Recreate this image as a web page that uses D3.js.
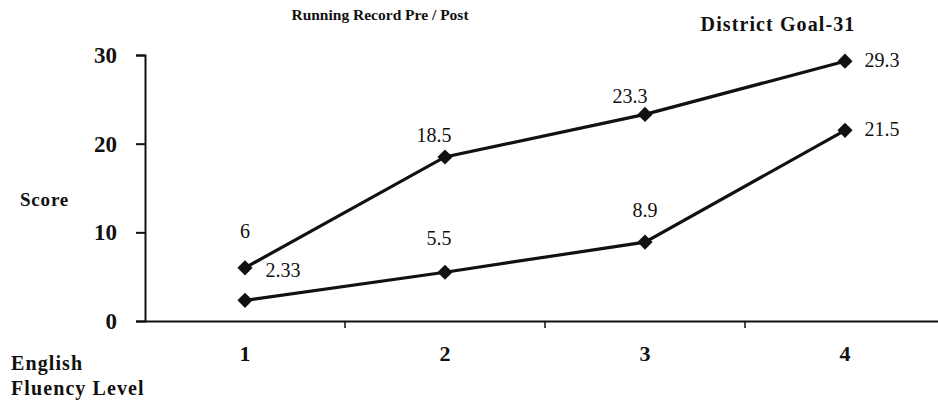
<!DOCTYPE html>
<html>
<head>
<meta charset="utf-8">
<script src="https://cdn.jsdelivr.net/npm/d3@7"></script>
<style>
	body { margin: 0; background: #fff; }
	svg { display: block; }
	svg text { font-family: "Liberation Serif", "DejaVu Serif", serif; fill: #111; }
</style>
</head>
<body>
<svg id="chart" width="938" height="406" font-family="Liberation Serif"></svg>
<script>
	// data
	var levels = ["1", "2", "3", "4"];
	var postScores = [6, 18.5, 23.3, 29.3];
	var preScores = [2.33, 5.5, 8.9, 21.5];
	var yTicks = [0, 10, 20, 30];

	var svg = d3.select("#chart");

	var x = d3.scaleBand().domain(levels).range([145, 945]);
	var y = d3.scaleLinear().domain([0, 30]).range([321, 55]);

	var cx = function(d, i) { return x(levels[i]) + x.bandwidth() / 2; };

	// y axis
	var yAxis = svg.append("g")
		.attr("transform", "translate(145,0)")
		.call(d3.axisLeft(y).tickValues(yTicks).tickSize(9).tickPadding(19));
	yAxis.attr("font-family", null);
	yAxis.select(".domain").attr("stroke", "#111").attr("stroke-width", 2);
	yAxis.selectAll(".tick line").attr("stroke", "#111").attr("stroke-width", 2);
	yAxis.selectAll("text")
		.attr("font-size", 23)
		.attr("font-weight", "bold");

	// x axis: line with ticks between categories
	var xAxis = svg.append("g")
		.attr("transform", "translate(0,321)")
		.call(d3.axisBottom(x).tickSize(0).tickPadding(24));
	xAxis.attr("font-family", null);
	xAxis.select(".domain").attr("stroke", "#111").attr("stroke-width", 2);
	xAxis.selectAll("text")
		.attr("font-size", 22)
		.attr("font-weight", "bold");
	xAxis.selectAll(".sep")
		.data(levels.slice(1))
		.enter().append("line")
		.attr("class", "sep")
		.attr("x1", function(d) { return x(d); })
		.attr("x2", function(d) { return x(d); })
		.attr("y1", 0).attr("y2", 7)
		.attr("stroke", "#111").attr("stroke-width", 1.5);

	var line = d3.line()
		.x(cx)
		.y(function(d) { return y(d); });

	var diamond = d3.symbol().type(d3.symbolSquare).size(115);

	[postScores, preScores].forEach(function(series) {
		svg.append("path")
			.datum(series)
			.attr("d", line)
			.attr("fill", "none")
			.attr("stroke", "#111")
			.attr("stroke-width", 3.2);

		svg.selectAll(null)
			.data(series)
			.enter().append("path")
			.attr("d", diamond)
			.attr("transform", function(d, i) {
				return "translate(" + cx(d, i) + "," + y(d) + ") rotate(45)";
			})
			.attr("fill", "#111");
	});

	// value labels: offsets as on the original
	var postOffsets = [[0, -30], [-11, -15], [-15, -11], [37, 6]];
	var preOffsets = [[38, -23], [-6, -27], [0, -25], [37, 6]];

	function addLabels(series, offsets) {
		svg.selectAll(null)
			.data(series)
			.enter().append("text")
			.attr("x", function(d, i) { return cx(d, i) + offsets[i][0]; })
			.attr("y", function(d, i) { return y(d) + offsets[i][1]; })
			.attr("text-anchor", "middle")
			.attr("font-size", 20)
			.text(function(d) { return d; });
	}
	addLabels(postScores, postOffsets);
	addLabels(preScores, preOffsets);

	// titles
	svg.append("text")
		.attr("x", 380).attr("y", 20)
		.attr("text-anchor", "middle")
		.attr("font-size", 15.5).attr("font-weight", "bold")
		.text("Running Record Pre / Post");

	svg.append("text")
		.attr("x", 778).attr("y", 31)
		.attr("text-anchor", "middle")
		.attr("font-size", 20).attr("font-weight", "bold")
		.attr("letter-spacing", 1.1)
		.text("District Goal-31");

	svg.append("text")
		.attr("x", 20).attr("y", 206)
		.attr("font-size", 19).attr("font-weight", "bold")
		.attr("letter-spacing", 0.8)
		.text("Score");

	svg.append("text")
		.attr("x", 11).attr("y", 370)
		.attr("font-size", 20).attr("font-weight", "bold")
		.attr("letter-spacing", 1.1)
		.text("English");

	svg.append("text")
		.attr("x", 11).attr("y", 395)
		.attr("font-size", 20).attr("font-weight", "bold")
		.attr("letter-spacing", 1.1)
		.text("Fluency Level");
</script>
</body>
</html>
